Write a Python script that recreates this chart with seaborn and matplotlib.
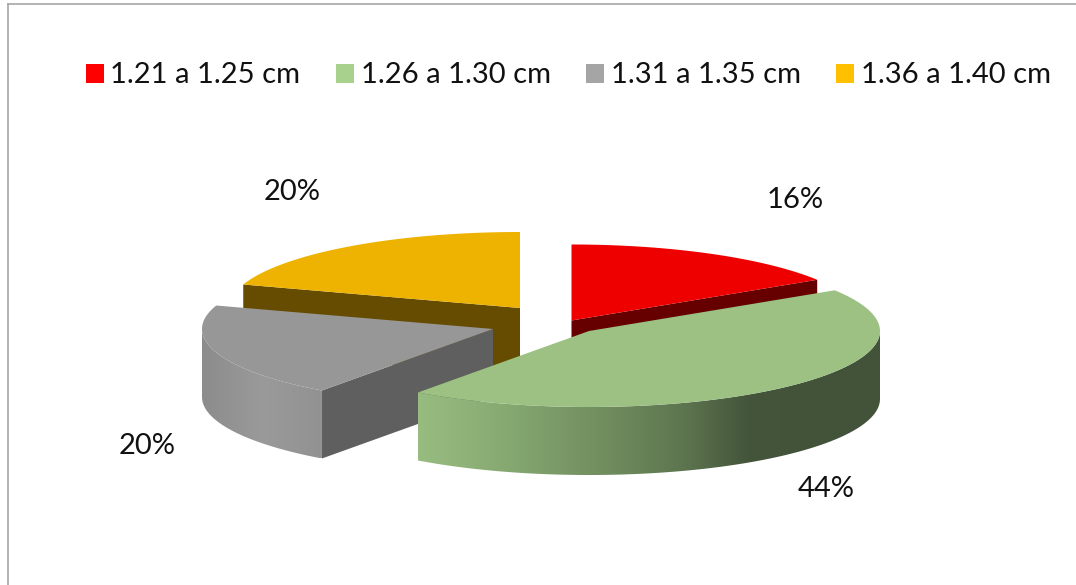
## 3D style exploded pie of size classes, drawn as flat polygons in pixel space.
import numpy as np
import matplotlib
matplotlib.use("Agg")
import matplotlib.pyplot as plt
from matplotlib.patches import Patch, Polygon
import seaborn as sns

sns.set_style("white")
plt.rcParams['font.family'] = ['Lato', 'DejaVu Sans']

categories = ['1.21 a 1.25 cm', '1.26 a 1.30 cm', '1.31 a 1.35 cm', '1.36 a 1.40 cm']
values = [16, 44, 20, 20]
legend_colors = ['#FF0000', '#A9D18E', '#A5A5A5', '#FFC000']
top_colors = ['#EE0000', '#9CC183', '#979797', '#EEB200']
cut_colors = ['#660000', '#42533A', '#5F5F5F', '#664C00']

# Layout of the fake 3D pie.
cx, cy = 545, 320
rx, ry = 291, 76
depth = 68
offsets = [(26.5, 0.5), (44, 11), (-52, 9), (-25, -12)]
label_pos = [(795, 200), (826, 489), (147, 446), (292, 192)]


def rim(ox, oy, a, b, dy=0):
    # Ellipse points, angle in degrees clockwise from 12 o'clock.
    t = np.radians(np.linspace(a, b, 120))
    return np.column_stack([ox + rx * np.sin(t), oy - ry * np.cos(t) + dy])


fig = plt.figure(figsize=(10.76, 5.85), dpi=100)
ax = fig.add_axes([8 / 1076, 0, 1 - 8 / 1076, 1 - 4 / 585])
ax.set_xlim(8, 1076)
ax.set_ylim(585, 4)
ax.set_xticks([])
ax.set_yticks([])
for side in ['right', 'bottom']:
    ax.spines[side].set_visible(False)
for side in ['top', 'left']:
    ax.spines[side].set_color('#A6A6A6')
    ax.spines[side].set_linewidth(1.2)

# Angles of each slice from the values.
edges = np.concatenate([[0], np.cumsum(values)]) / sum(values) * 360
starts, ends = edges[:-1], edges[1:]
centers = [(cx + dx, cy + dy) for dx, dy in offsets]

# Back to front: yellow, grey, red, green.
order = [3, 2, 0, 1]
# Which cut face shows, and the outer wall that shows (angles).
cut_angle = {3: starts[3], 2: starts[2], 0: ends[0]}
wall = {2: (starts[2], 270), 1: (90, ends[1])}
wall_stops = {
    2: ['#8C8C8C', '#9A9A9A', '#929292'],
    1: ['#97BC80', '#8BAE75', '#7C9C69', '#6E8A5C', '#5E7650', '#44553B', '#42533A', '#42533A'],
}

z = 2
for i in order:
    ox, oy = centers[i]
    if i in cut_angle:
        p = rim(ox, oy, cut_angle[i], cut_angle[i])[0]
        ax.add_patch(Polygon([(ox, oy), p, (p[0], p[1] + depth), (ox, oy + depth)],
                             closed=True, fc=cut_colors[i], ec='none', zorder=z))
        z += 1
    if i in wall:
        a, b = wall[i]
        upper = rim(ox, oy, a, b)
        lower = rim(ox, oy, a, b, dy=depth)
        poly = Polygon(np.vstack([upper, lower[::-1]]), closed=True, fc='none', ec='none', zorder=z)
        ax.add_patch(poly)
        x0, x1 = upper[:, 0].min(), upper[:, 0].max()
        y0, y1 = upper[:, 1].min(), lower[:, 1].max()
        cmap = sns.blend_palette(wall_stops[i], as_cmap=True)
        grad = np.linspace(0, 1, 400).reshape(1, -1)
        im = ax.imshow(grad, cmap=cmap, extent=(x0, x1, y1, y0), aspect='auto', zorder=z,
                       vmin=0, vmax=1, interpolation='bilinear')
        im.set_clip_path(poly)
        z += 1
    arc = rim(ox, oy, starts[i], ends[i])
    ax.add_patch(Polygon(np.vstack([[(ox, oy)], arc]), closed=True, fc=top_colors[i], ec='none', zorder=z))
    z += 1

ax.set_xlim(8, 1076)
ax.set_ylim(585, 4)

# Percent labels.
for v, (x, y) in zip(values, label_pos):
    ax.text(x, y, f'{v}%', fontsize=21, color='#111111', ha='center', va='center', zorder=z)

handles = [Patch(fc=c, ec='none', label=l) for c, l in zip(legend_colors, categories)]
ax.legend(handles=handles, loc='center left', bbox_to_anchor=(86, 75.5),
          bbox_transform=ax.transData, ncol=4, frameon=False, fontsize=21,
          handlelength=0.6, handleheight=0.62, handletextpad=0.24,
          columnspacing=1.22, borderpad=0, borderaxespad=0, labelcolor='#111111')

plt.savefig('out.png', dpi=100)
